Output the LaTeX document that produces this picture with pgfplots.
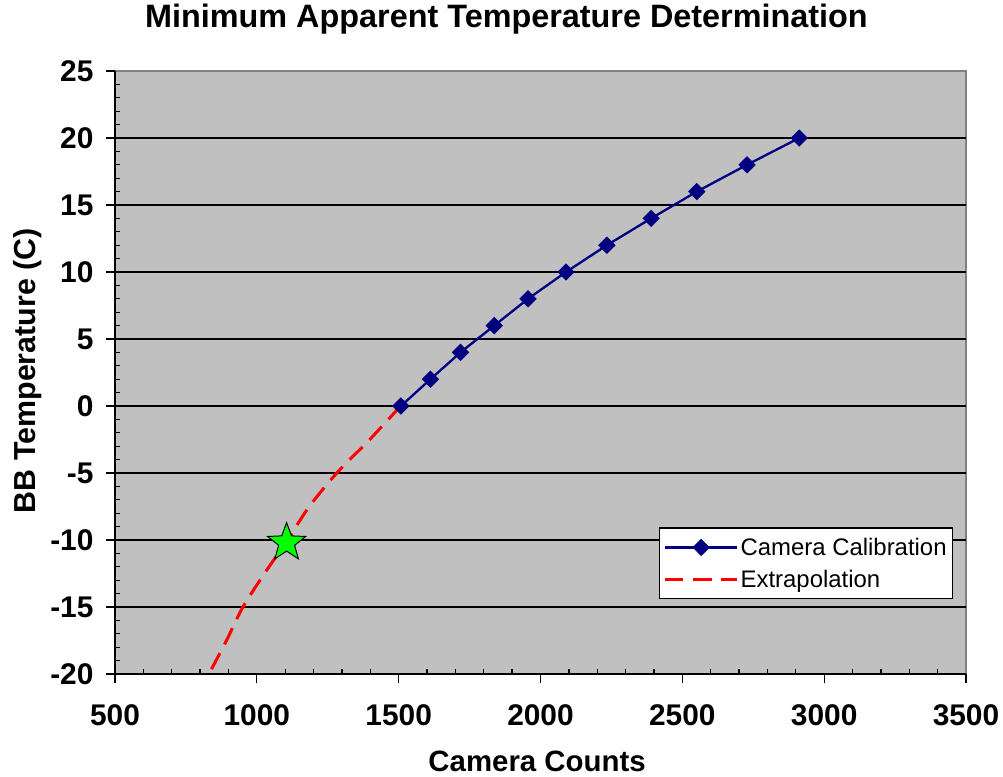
\documentclass[border=0pt]{standalone}
\usepackage{fontspec}
\setmainfont{Liberation Sans}
\usepackage{pgfplots}
\pgfplotsset{compat=1.18}
\definecolor{plotbg}{HTML}{C0C0C0}
\definecolor{navyblue}{HTML}{000080}
\definecolor{borderg}{HTML}{808080}
\definecolor{stargreen}{HTML}{00FF00}
\pgfdeclareplotmark{fivestar}{%
  \pgfpathmoveto{\pgfqpointpolar{90}{\pgfplotmarksize}}%
  \pgfpathlineto{\pgfqpointpolar{126}{0.42\pgfplotmarksize}}%
  \pgfpathlineto{\pgfqpointpolar{162}{\pgfplotmarksize}}%
  \pgfpathlineto{\pgfqpointpolar{198}{0.42\pgfplotmarksize}}%
  \pgfpathlineto{\pgfqpointpolar{234}{\pgfplotmarksize}}%
  \pgfpathlineto{\pgfqpointpolar{270}{0.42\pgfplotmarksize}}%
  \pgfpathlineto{\pgfqpointpolar{306}{\pgfplotmarksize}}%
  \pgfpathlineto{\pgfqpointpolar{342}{0.42\pgfplotmarksize}}%
  \pgfpathlineto{\pgfqpointpolar{18}{\pgfplotmarksize}}%
  \pgfpathlineto{\pgfqpointpolar{54}{0.42\pgfplotmarksize}}%
  \pgfpathclose
  \pgfusepathqfillstroke
}
\begin{document}
\begin{tikzpicture}
\useasboundingbox (-115bp,-103bp) rectangle (888bp,674bp);
% main axis
\begin{axis}[
  at={(0,0)}, anchor=south west,
  scale only axis, width=851bp, height=603bp,
  xmin=500, xmax=3500, ymin=-20, ymax=25,
  axis lines=left,
  axis line style={-, black, line width=1.5bp},
  axis background/.style={fill=plotbg, draw=borderg, line width=2bp},
  xtick={500,1000,...,3500}, ytick={-20,-15,...,25},
  tick align=outside, major tick length=9bp,
  tick style={black, line width=1.3bp},
  extra y ticks={-15,-10,...,20}, extra y tick labels={},
  extra y tick style={major tick length=0pt, grid=major, major grid style={black, line width=1.5bp}},
  /pgf/number format/assume math mode=true,
  /pgf/number format/1000 sep={},
  scaled x ticks=false,
  ticklabel style={font=\fontsize{30}{32}\selectfont\bfseries},
  xticklabel style={anchor=north, yshift=-18bp},
  yticklabel style={anchor=east, xshift=-9bp},
  title={Minimum Apparent Temperature Determination},
  title style={font=\fontsize{32.5}{34}\selectfont\bfseries, at={(axis description cs:0.460,1.0614)}, anchor=base},
  xlabel={Camera Counts},
  xlabel style={font=\fontsize{29.5}{31}\selectfont\bfseries, at={(axis description cs:0.496,-0.1625)}, anchor=base},
  ylabel={BB Temperature (C)},
  ylabel style={font=\fontsize{30.5}{32}\selectfont\bfseries, at={(axis description cs:-0.094,0.503)}, anchor=base},
  legend style={at={(axis description cs:0.985,0.124)}, anchor=south east, draw=black, line width=1.2bp, fill=white,
    font=\fontsize{24}{26}\selectfont, inner xsep=4bp, inner ysep=8bp, row sep=9bp},
  legend cell align=left,
  reverse legend,
  legend image code/.code={\draw[mark repeat=2,mark phase=2,#1] plot coordinates {(0bp,0bp) (36bp,0bp) (72bp,0bp)};},
]
\addplot[red, line width=3bp, dash pattern=on 18bp off 10bp, smooth] coordinates {
 (1507,0) (1398,-2.5) (1282,-5) (1185,-7.5) (1108,-10) (1027,-12.5) (951,-15) (893,-17.5) (831,-20)};
\addlegendentry{Extrapolation}
\addplot[navyblue, line width=2.3bp, mark=square*, mark size=5bp, mark options={rotate=45, solid, fill=navyblue}] coordinates {
 (1508,0) (1612,2) (1718,4) (1837,6) (1956,8) (2090,10) (2234,12) (2390,14) (2551,16) (2728,18) (2912,20)};
\addlegendentry{Camera Calibration}
\addplot[only marks, mark=fivestar, mark size=20bp, mark options={fill=stargreen, draw=black, line width=1bp}, forget plot] coordinates {(1105,-10.2)};
\end{axis}
% overlay axis for the inward minor ticks
\begin{axis}[
  at={(0,0)}, anchor=south west,
  scale only axis, width=851bp, height=603bp,
  xmin=500, xmax=3500, ymin=-20, ymax=25,
  axis lines=left, axis line style={draw=none},
  xtick={500,1000,...,3500}, ytick={-20,-15,...,25},
  xticklabels={}, yticklabels={},
  minor x tick num=4, minor y tick num=4,
  tick align=inside, major tick length=0pt, minor tick length=5bp,
  tick style={black, line width=1.3bp},
]
\end{axis}
\end{tikzpicture}
\end{document}
